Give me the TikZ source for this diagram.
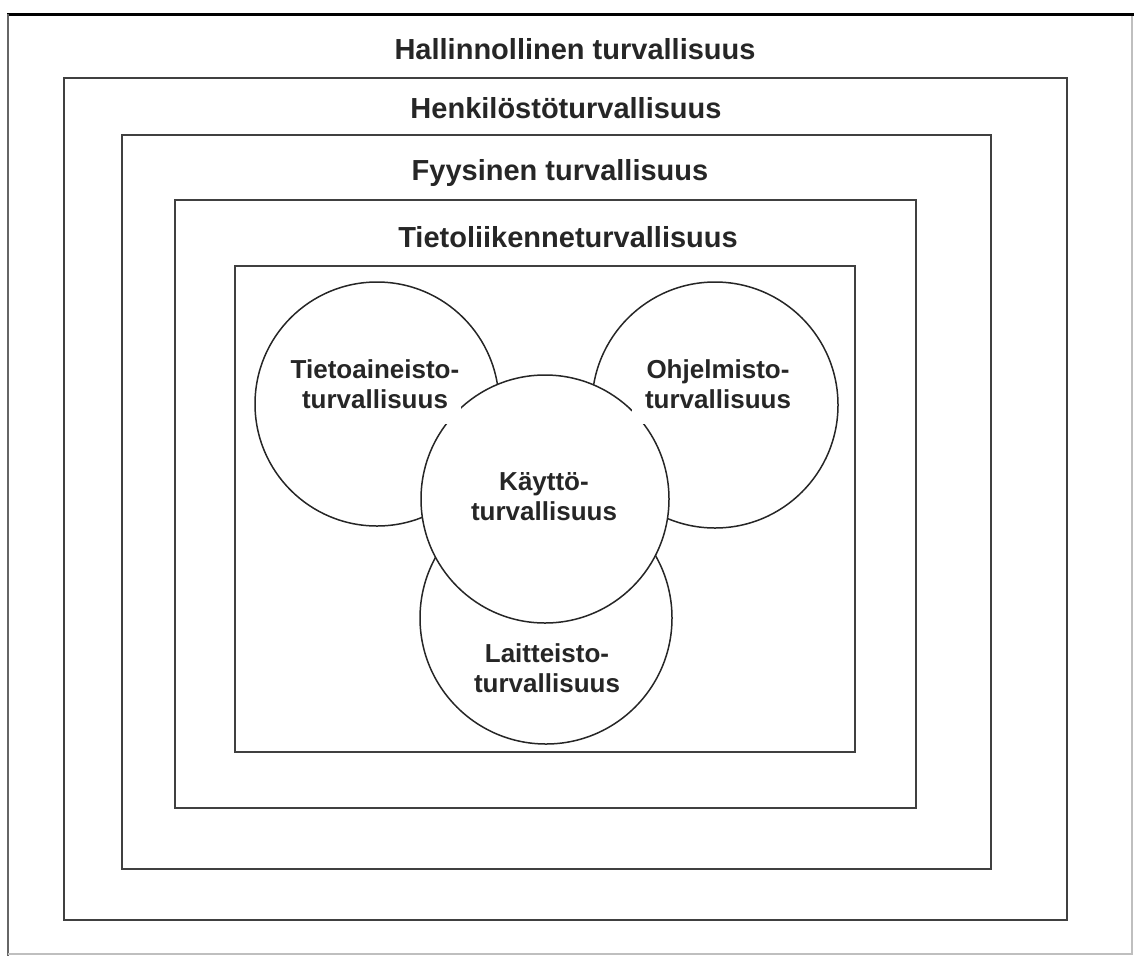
\documentclass[tikz,border=0pt]{standalone}
\usepackage{fontspec}
\setmainfont{Liberation Sans}
\begin{document}
\begin{tikzpicture}[x=1pt,y=-1pt,
  box/.style={draw=black!75,line width=2pt,inner sep=0pt},
  ring/.style={draw=black!85,line width=1.5pt,fill=white,circle,inner sep=0pt},
  title/.style={font=\bfseries\fontsize{29}{33}\selectfont,text=black!85,anchor=base},
  lab/.style={font=\bfseries\fontsize{26}{30}\selectfont,text=black!85,align=center}]
\useasboundingbox (0,0) rectangle (1134,956);
% outer window frame
\coordinate (tl) at (7,14);
\coordinate (tr) at (1134,14);
\coordinate (lt) at (8,14);
\coordinate (lb) at (8,956);
\coordinate (br1) at (1132,16);
\coordinate (br2) at (1132,954);
\coordinate (bl) at (8,954);
\draw[line width=3pt,black] (tl) -- (tr);
\draw[line width=2pt,black!60] (lt) -- (lb);
\draw[line width=1.5pt,black!25] (br1) -- (br2) -- (bl);
% nested boxes
\node[box,minimum width=1003pt,minimum height=842pt] (r1) at (565.5,499) {};
\node[box,minimum width=869pt,minimum height=734pt] (r2) at (556.5,502) {};
\node[box,minimum width=741pt,minimum height=608pt] (r3) at (545.5,504) {};
\node[box,minimum width=620pt,minimum height=486pt] (r4) at (545,509) {};
% titles
\node[title] (t1) at (575,59) {Hallinnollinen turvallisuus};
\node[title] (t2) at (566,118) {Henkilöstöturvallisuus};
\node[title] (t3) at (560,180) {Fyysinen turvallisuus};
\node[title] (t4) at (568,247) {Tietoliikenneturvallisuus};
% circles
\node[ring,minimum size=244pt] (cl) at (377,404) {};
\node[ring,minimum size=246pt] (cr) at (715,405) {};
\node[ring,minimum size=252pt] (cb) at (546,618) {};
\node[ring,minimum size=248pt] (cc) at (545,499) {};
% labels
\node[lab,fill=white,text width=172pt,inner xsep=0pt,inner ysep=15pt] (ll) at (375,384) {Tietoaineisto-\\turvallisuus};
\node[lab,fill=white,text width=172pt,inner xsep=0pt,inner ysep=15pt] (lr) at (718,384) {Ohjelmisto-\\turvallisuus};
\node[lab] (lc) at (544,497) {Käyttö-\\turvallisuus};
\node[lab] (lb2) at (547,668) {Laitteisto-\\turvallisuus};
\end{tikzpicture}
\end{document}
